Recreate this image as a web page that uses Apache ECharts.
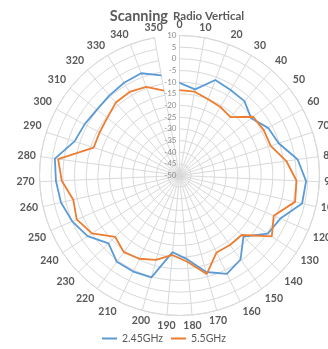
<!DOCTYPE html>
<html>
<head>
<meta charset="utf-8">
<script src="https://cdn.jsdelivr.net/npm/echarts@6/dist/echarts.min.js"></script>
<style>
  html, body { margin: 0; padding: 0; background: #ffffff; }
  #chart { width: 328px; height: 349px; }
</style>
</head>
<body>
<div id="chart"></div>
<script>
// Measurement bearings in degrees (110 was not recorded)
const bearings = ['0', '10', '20', '30', '40', '50', '60', '70', '80', '90', '100',
  '120', '130', '140', '150', '160', '170', '180', '190', '200', '210', '220',
  '230', '240', '250', '260', '270', '280', '290', '300', '310', '320', '330',
  '340', '350'];

// Received level (dB) per bearing
const band245 = [-10.3, -12.5, -6.3, -7.3, -7.7, -10.7, -6.9, -5.3, 1.1, 4.3, 3.9,
  -3.0, -4.7, -12.1, -5.5, -3.2, -7.1, -14.0, -17.0, -4.7, -4.3, -4.3,
  -7.9, -2.8, 0.0, 2.1, 3.0, 3.9, -2.7, -3.8, -4.7, -4.4, -3.7,
  -3.2, -6.4];
const band55 = [-13.4, -13.5, -15.1, -15.8, -16.8, -9.6, -9.0, -8.9, -3.8, 0.2, 0.8,
  -6.1, -2.6, -13.1, -13.2, -13.4, -6.2, -12.9, -15.8, -12.5, -10.4, -9.4,
  -11.9, -5.0, -2.1, -3.3, 0.5, 2.5, -11.3, -11.1, -10.4, -8.5, -8.3,
  -9.4, -13.0];

const seriesNames = ['2.45GHz', '5.5GHz'];
const radiusTicks = { min: -50, max: 10, step: 5 };

// Closed polygon: each value paired with its bearing index, first point repeated at the end
function ring(values) {
  const pts = values.map((v, i) => [v, i]);
  pts.push([values[0], 0]);
  return pts;
}

const font = 'Lato';
const grid = '#d9d9d9';
const chart = echarts.init(document.getElementById('chart'), null, { renderer: 'canvas' });
chart.setOption({
  animation: false,
  backgroundColor: '#ffffff',
  title: {
    text: '{a|Scanning} {b|Radio Vertical}',
    left: 172,
    textAlign: 'center',
    top: 2,
    textStyle: {
      rich: {
        a: { fontFamily: font, fontSize: 14.5, fontWeight: 'bold', color: '#595959' },
        b: { fontFamily: font, fontSize: 11.5, fontWeight: 'bold', color: '#595959' }
      }
    }
  },
  legend: {
    bottom: 0,
    left: 'center',
    icon: 'rect',
    itemWidth: 15,
    itemHeight: 2,
    itemGap: 8,
    textStyle: { fontFamily: font, fontSize: 10.5, color: '#595959' },
    data: seriesNames
  },
  polar: { center: [179.5, 175.5], radius: 140 },
  angleAxis: {
    type: 'category',
    data: bearings,
    boundaryGap: false,
    startAngle: 90,
    clockwise: true,
    axisLine: { show: true, lineStyle: { color: grid, width: 1 } },
    axisTick: { show: false },
    axisLabel: { interval: 0, margin: 5, fontFamily: font, fontSize: 10.5, fontWeight: 'bold', color: '#595959' },
    splitLine: { show: true, lineStyle: { color: grid, width: 1 } }
  },
  radiusAxis: {
    type: 'value',
    min: radiusTicks.min,
    max: radiusTicks.max,
    interval: radiusTicks.step,
    axisLine: { show: true, lineStyle: { color: grid } },
    axisTick: { show: false },
    axisLabel: { margin: 3, fontFamily: font, fontSize: 8, color: '#8c8c8c' },
    splitLine: { show: true, lineStyle: { color: grid, width: 1 } }
  },
  series: [
    {
      name: seriesNames[0], type: 'line', coordinateSystem: 'polar',
      data: ring(band245), symbol: 'none',
      lineStyle: { color: '#5b9bd5', width: 1.8 }, itemStyle: { color: '#5b9bd5' }
    },
    {
      name: seriesNames[1], type: 'line', coordinateSystem: 'polar',
      data: ring(band55), symbol: 'none',
      lineStyle: { color: '#ed7d31', width: 1.8 }, itemStyle: { color: '#ed7d31' }
    }
  ]
});
</script>
</body>
</html>
